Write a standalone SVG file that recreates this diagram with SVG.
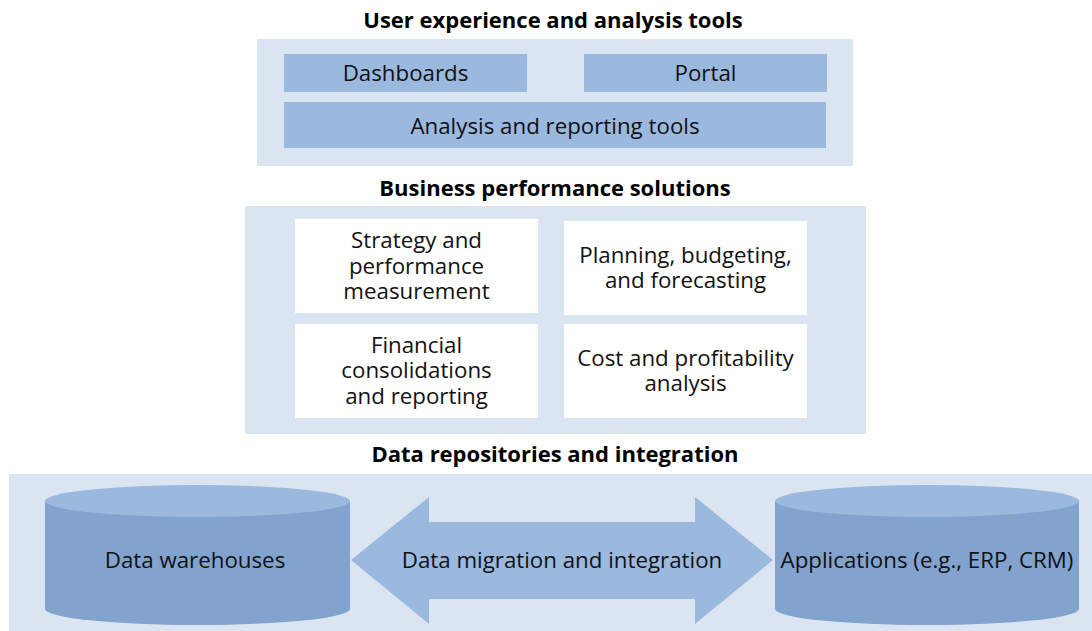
<svg xmlns="http://www.w3.org/2000/svg" width="1092" height="631" viewBox="0 0 1092 631">
  <style>
    .panel { fill: #dae5f1; }
    .tile { fill: #9bb9df; }
    .card { fill: #ffffff; }
    .cap { fill: #9bb8de; }
    .body { fill: #81a3cd; }
    .title { font-family: "Open Sans", "Liberation Sans", sans-serif; font-weight: bold; font-size: 22px; fill: #000; text-anchor: middle; }
    .lbl { font-family: "Open Sans", "Liberation Sans", sans-serif; font-size: 22.3px; fill: #111; text-anchor: middle; }
  </style>
  <rect width="1092" height="631" fill="#ffffff"/>

  <!-- Top tier -->
  <g id="tier-ux">
    <text class="title" x="553" y="28">User experience and analysis tools</text>
    <rect class="panel" x="257" y="39" width="596" height="127"/>
  </g>
  <g id="dashboards">
    <rect class="tile" x="284" y="54" width="243" height="38"/>
    <text class="lbl" x="405.5" y="81">Dashboards</text>
  </g>
  <g id="portal">
    <rect class="tile" x="584" y="54" width="243" height="38"/>
    <text class="lbl" x="705.5" y="81">Portal</text>
  </g>
  <g id="analysis-tools">
    <rect class="tile" x="284" y="102" width="542" height="46"/>
    <text class="lbl" x="555" y="134">Analysis and reporting tools</text>
  </g>

  <!-- Middle tier -->
  <g id="tier-bps">
    <text class="title" x="555" y="196">Business performance solutions</text>
    <rect class="panel" x="245" y="206" width="621" height="228"/>
  </g>
  <g id="strategy">
    <rect class="card" x="295" y="219" width="243" height="94"/>
    <text class="lbl" x="416.5" y="248">Strategy and</text>
    <text class="lbl" x="416.5" y="274">performance</text>
    <text class="lbl" x="416.5" y="299">measurement</text>
  </g>
  <g id="planning">
    <rect class="card" x="564" y="221" width="243" height="94"/>
    <text class="lbl" x="685.5" y="263">Planning, budgeting,</text>
    <text class="lbl" x="685.5" y="288">and forecasting</text>
  </g>
  <g id="financial">
    <rect class="card" x="295" y="324" width="243" height="94"/>
    <text class="lbl" x="416.5" y="353">Financial</text>
    <text class="lbl" x="416.5" y="378">consolidations</text>
    <text class="lbl" x="416.5" y="404">and reporting</text>
  </g>
  <g id="cost">
    <rect class="card" x="564" y="324" width="243" height="94"/>
    <text class="lbl" x="685.5" y="366">Cost and profitability</text>
    <text class="lbl" x="685.5" y="391">analysis</text>
  </g>

  <!-- Bottom tier -->
  <g id="tier-data">
    <text class="title" x="555" y="462">Data repositories and integration</text>
    <rect class="panel" x="9" y="474" width="1083" height="157"/>
  </g>
  <g id="warehouses">
    <path class="body" d="M45,501 V609 A152.5,16 0 0 0 350,609 V501 Z"/>
    <ellipse class="cap" cx="197.5" cy="501" rx="152.5" ry="16"/>
    <text class="lbl" x="195" y="568">Data warehouses</text>
  </g>
  <g id="applications">
    <path class="body" d="M775,501 V609 A152,16 0 0 0 1079,609 V501 Z"/>
    <ellipse class="cap" cx="927" cy="501" rx="152" ry="16"/>
    <text class="lbl" x="927" y="568">Applications (e.g., ERP, CRM)</text>
  </g>

  <!-- Connectors -->
  <g id="connectors">
    <path class="tile" d="M351,560 L429,497 L429,522 L695,522 L695,497 L773,560 L695,624 L695,599 L429,599 L429,624 Z"/>
    <text class="lbl" x="562" y="568">Data migration and integration</text>
  </g>
</svg>
